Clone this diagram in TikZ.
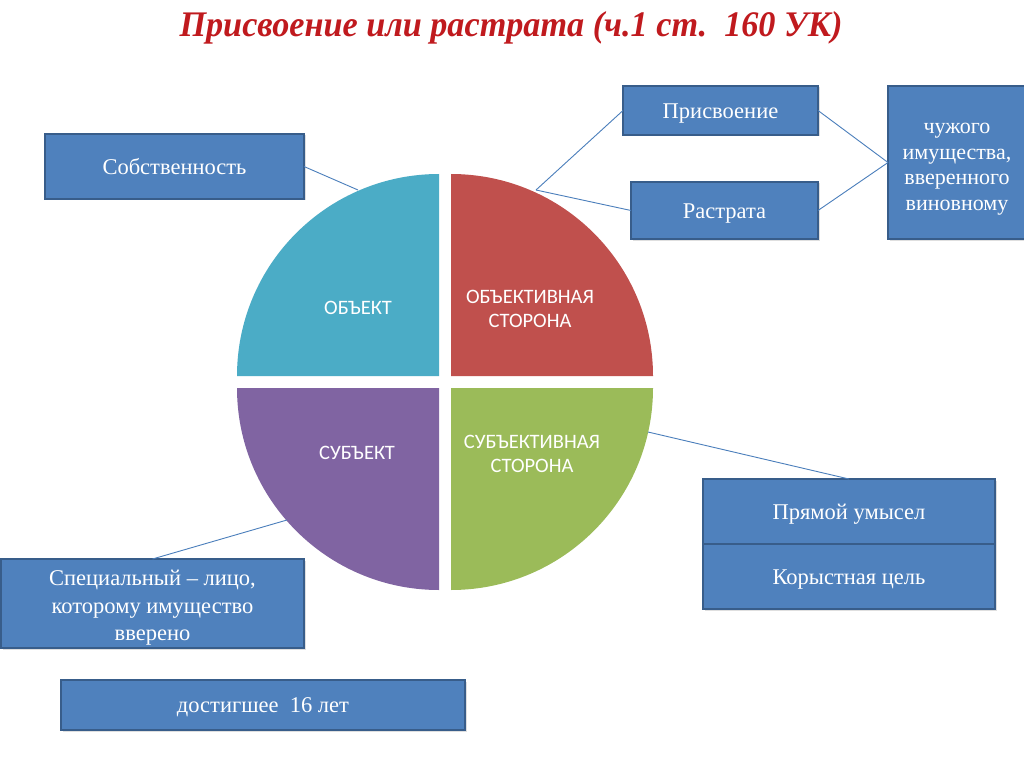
\documentclass[tikz,border=0pt]{standalone}
\usepackage{fontspec}
\setmainfont{Liberation Serif}
\newfontfamily\piefont{Carlito}
\usetikzlibrary{shadows}
\definecolor{boxfill}{HTML}{4F81BD}
\definecolor{boxline}{HTML}{385D8A}
\definecolor{conn}{HTML}{4A7EBB}
\definecolor{qteal}{HTML}{4BACC6}
\definecolor{qred}{HTML}{C0504D}
\definecolor{qpurple}{HTML}{8064A2}
\definecolor{qgreen}{HTML}{9BBB59}
\definecolor{titlered}{HTML}{C01A1E}
\begin{document}
\begin{tikzpicture}[x=1pt,y=1pt,
  bluebox/.style={draw=boxline, line width=1.5pt, fill=boxfill, text=white,
    outer sep=0pt, inner sep=0pt, align=center,
    text height=15.5pt, text depth=0pt,
    font=\fontsize{22.5}{27}\selectfont,
    drop shadow={opacity=0.25, shadow xshift=1.5pt, shadow yshift=-1.5pt}},
  boxtext/.style={text=white, align=center, inner sep=0pt},
  pietext/.style={text=white, align=center, font=\piefont\fontsize{20.5}{24}\selectfont},
  connector/.style={draw=conn, line width=0.9pt}]
\useasboundingbox (0,0) rectangle (1024,-767);
\fill[white] (0,0) rectangle (1024,-767);

% title
\node (title) [text=titlered, anchor=base, inner sep=0pt, font=\bfseries\itshape\fontsize{36}{40}\selectfont] at (511,-37) {\scalebox{0.95}[1]{Присвоение или растрата (ч.1 ст.\ \ 160 УК)}};

% pie quadrants
\fill[qteal] (439,-376) -- (237,-376) arc[start angle=180, end angle=90, radius=202] -- cycle;
\fill[qred] (451,-376) -- (451,-174) arc[start angle=90, end angle=0, radius=202] -- cycle;
\fill[qpurple] (439,-388) -- (237,-388) arc[start angle=180, end angle=270, radius=202] -- cycle;
\fill[qgreen] (451,-388) -- (653,-388) arc[start angle=0, end angle=-90, radius=202] -- cycle;

\node (obj) [pietext] at (358,-308) {ОБЪЕКТ};
\node (objs) [pietext] at (530,-309) {ОБЪЕКТИВНАЯ\\СТОРОНА};
\node (subj) [pietext] at (357,-453) {СУБЪЕКТ};
\node (subjs) [pietext] at (532,-454) {СУБЪЕКТИВНАЯ\\СТОРОНА};

\coordinate (pA) at (358,-190);
\coordinate (pB) at (536,-190);
\coordinate (pC) at (648,-432);
\coordinate (pD) at (287,-520);

% boxes
\node (sob) [bluebox, minimum width=259pt, minimum height=65pt] at (174.5,-166.5) {Собственность};
\node (pris) [bluebox, minimum width=195pt, minimum height=49pt] at (720.5,-110.5) {Присвоение};
\node (rast) [bluebox, minimum width=187pt, minimum height=57pt] at (724.5,-210.5) {Растрата};
\node (chuz) [bluebox, minimum width=140pt, minimum height=153pt] at (958,-162.5) {};
\node (chuztext) [boxtext, font=\fontsize{22}{25.5}\selectfont] at (957,-169) {чужого\\имущества,\\вверенного\\виновному};
\node (pryam) [bluebox, minimum width=292pt, minimum height=65pt] at (849,-511.5) {Прямой умысел};
\node (kor) [bluebox, minimum width=292pt, minimum height=65pt] at (849,-576.5) {Корыстная цель};
\node (spec) [bluebox, minimum width=303pt, minimum height=89pt] at (152.5,-603.5) {};
\node (spectext) [boxtext, font=\fontsize{22.5}{27.5}\selectfont] at (152.5,-608) {Специальный – лицо,\\которому имущество\\вверено};
\node (dost) [bluebox, minimum width=404pt, minimum height=50pt] at (263,-705) {достигшее\ \ 16 лет};

% connectors
\draw[connector] (sob.east) -- (pA);
\draw[connector] (pB) -- (pris.west);
\draw[connector] (pB) -- (rast.west);
\draw[connector] (pris.east) -- (chuz.west);
\draw[connector] (rast.east) -- (chuz.west);
\draw[connector] (pC) -- (pryam.north);
\draw[connector] (pD) -- (spec.north);
\end{tikzpicture}
\end{document}
